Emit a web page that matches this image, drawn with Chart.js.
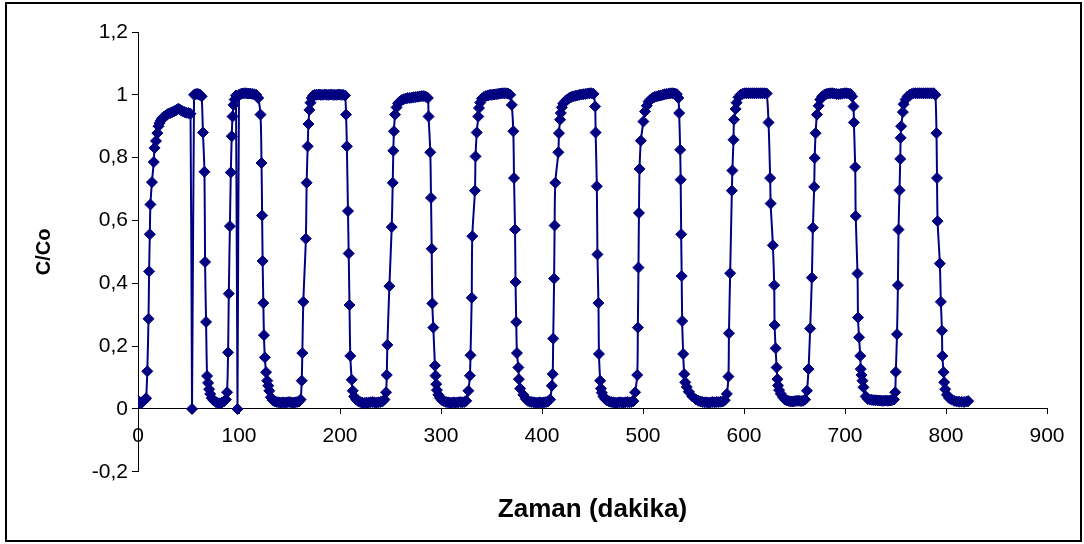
<!DOCTYPE html>
<html>
<head>
<meta charset="utf-8">
<script src="https://cdn.jsdelivr.net/npm/chart.js@4/dist/chart.umd.min.js"></script>
<style>
  html, body { margin: 0; padding: 0; background: #ffffff; }
  #wrap { width: 1084px; height: 544px; }
</style>
</head>
<body>
<div id="wrap"><canvas id="grafik" width="1084" height="544"></canvas></div>
<script>
// Ölçüm verileri: [zaman (dakika), C/Co] — her döngü ayrı dizide
const dongu1 = [
  [0,0.027],[1,0.022],[2,0.02],[3,0.018],[4,0.021],[5,0.024],[6,0.027],[7,0.03],[8,0.034],
  [9.2,0.12],[10.4,0.287],[11,0.438],[11.7,0.556],[12.3,0.651],[13.8,0.722],[15.6,0.786],[16.4,0.831],
  [17.8,0.853],[19.2,0.878],[20.3,0.9],[21.4,0.91],[22.6,0.918],[24,0.925],[25.5,0.93],[27,0.933],
  [28.5,0.936],[30,0.94],[32,0.942],[34,0.945],[36,0.948],[38,0.952],[40,0.956],[42,0.952],[44,0.948],
  [46,0.945],[48,0.943],[50,0.942],[52,0.94],[53.5,0],
  [55.5,1.0],[57,1.002],[58.5,1.003],[60,1.002],[61.5,1.0],[63,0.995],
  [64.3,0.88],[65.8,0.755],[66.4,0.468],[67.4,0.277],[68.4,0.105],[69.4,0.083],[70.4,0.063],[71.5,0.048],
  [73,0.035],[75,0.027],[77,0.022],[79,0.019],[81,0.018],[83,0.02],[85,0.024],[87,0.03]
];
const dongu2 = [
  [88.2,0.053],[89.2,0.18],[89.9,0.367],[91,0.582],[91.9,0.753],[92.8,0.868],[93.6,0.931],[94.6,0.968],
  [95.7,0.985],[97,0.998],[98.5,0],
  [100,1.0],[101.5,1.002],[103,1.004],[105,1.005],[107,1.005],[109,1.004],[111,1.004],[113,1.003],
  [115,1.002],[117,1.0],[119,0.99],
  [121.3,0.937],[122.3,0.783],[122.9,0.616],[123.4,0.471],[124.1,0.337],[124.7,0.235],[125.6,0.164],
  [126.8,0.117],[128,0.09],[129,0.074],[130,0.058],[131.5,0.037],[133.5,0.028],[135.5,0.024],[137.5,0.022],
  [139.5,0.021],[141.5,0.02],[143.5,0.021],[145.5,0.02],[147.5,0.021],[149.5,0.022],[151.5,0.021],
  [153.5,0.02],[155.5,0.021],[157.5,0.022],[159.5,0.024],[161,0.03]
];
const dongu3 = [
  [162.1,0.09],[162.7,0.178],[163.7,0.341],[166.2,0.542],[167,0.72],[168,0.836],[168.8,0.907],[169.7,0.952],
  [170.8,0.975],[172,0.99],[173.5,0.998],[175,1.0],[177,1.0],[179,1.001],[181,1.0],[183,1.0],[185,1.001],
  [187,1.0],[189,1.0],[191,1.001],[193,1.0],[195,1.0],[197,1.0],[199,1.001],[201,1.0],[203,1.0],[205,0.998],
  [206,0.937],[206.8,0.836],[207.9,0.63],[208.6,0.495],[209.4,0.331],[210.2,0.169],[211.6,0.093],[212.6,0.058],
  [214,0.04],[216,0.03],[218,0.025],[220,0.022],[222,0.02],[224,0.019],[226,0.02],[228,0.02],[230,0.021],
  [232,0.022],[234,0.021],[236,0.02],[238,0.021],[240,0.022],[242,0.024],[244,0.03]
];
const dongu4 = [
  [245.6,0.053],[246.3,0.108],[246.9,0.204],[248.9,0.391],[251.2,0.579],[252.2,0.72],[252.8,0.822],[253.4,0.884],
  [254.5,0.937],[256,0.96],[257.5,0.972],[259,0.978],[261,0.983],[263,0.986],[265,0.988],[267,0.99],[269,0.99],
  [271,0.991],[273,0.992],[275,0.993],[277,0.994],[279,0.995],[281,0.996],[283,0.996],[285,0.994],[287,0.99],
  [287.7,0.931],[289.4,0.817],[290.1,0.672],[290.8,0.51],[291.4,0.336],[292.4,0.259],[294,0.138],[294.6,0.106],
  [295.3,0.079],[296,0.06],[297.4,0.045],[299,0.035],[301,0.028],[303,0.025],[305,0.022],[307,0.021],[309,0.02],
  [311,0.02],[313,0.021],[315,0.02],[317,0.021],[319,0.022],[321,0.021],[323,0.022],[325,0.026]
];
const dongu5 = [
  [327.1,0.058],[328.6,0.106],[329.2,0.171],[330.4,0.354],[331,0.55],[333.6,0.695],[334.2,0.804],[335.4,0.88],
  [336.9,0.931],[337.6,0.958],[338.8,0.975],[340.5,0.988],[342.5,0.993],[344.5,0.996],[346.5,0.998],[348.5,1.0],
  [350.5,1.0],[352.5,1.001],[354.5,1.002],[356.5,1.003],[358.5,1.004],[360.5,1.005],[362.5,1.005],[364.5,1.005],
  [366.5,1.004],[368.5,1.0],
  [370.1,0.968],[371.6,0.884],[372.3,0.735],[373.3,0.571],[373.8,0.404],[374.5,0.277],[375.2,0.178],[376.6,0.132],
  [377.1,0.095],[378.4,0.065],[381.5,0.045],[384,0.032],[386,0.026],[388,0.023],[390,0.022],[392,0.021],[394,0.02],
  [396,0.02],[398,0.021],[400,0.02],[402,0.021],[404,0.022],[406,0.024],[408,0.03]
];
const dongu6 = [
  [409.7,0.074],[410.6,0.111],[411.1,0.224],[412,0.415],[412.5,0.584],[413.2,0.72],[416.2,0.817],[416.8,0.878],
  [417.9,0.921],[418.6,0.942],[419.6,0.96],[421,0.972],[423,0.98],[425,0.985],[427,0.99],[429,0.993],[431,0.995],
  [433,0.997],[435,0.998],[437,1.0],[439,1.001],[441,1.002],[443,1.003],[445,1.004],[447,1.005],[449,1.005],[451,1.003],
  [452.6,0.963],[453.1,0.88],[454.3,0.709],[454.9,0.492],[455.9,0.337],[456.4,0.175],[457.6,0.09],[458.3,0.065],
  [459.2,0.052],[460.8,0.04],[462.5,0.032],[464.5,0.027],[466.5,0.024],[468.5,0.022],[470.5,0.021],[472.5,0.02],
  [474.5,0.02],[476.5,0.021],[478.5,0.021],[480.5,0.02],[482.5,0.021],[484.5,0.022],[486.5,0.021],[488.5,0.022],[490.5,0.025]
];
const dongu7 = [
  [492.2,0.053],[494.3,0.108],[494.9,0.259],[495.5,0.45],[496,0.624],[496.6,0.764],[497.9,0.854],[500.4,0.915],
  [502,0.947],[503.8,0.965],[505.5,0.978],[507.5,0.985],[509.5,0.99],[511.5,0.993],[513.5,0.995],[515.5,0.997],
  [517.5,0.998],[519.5,1.0],[521.5,1.002],[523.5,1.003],[525.5,1.004],[527.5,1.005],[529.5,1.005],[531.5,1.004],
  [533.5,1.002],[535,0.99],
  [535.8,0.942],[536.8,0.825],[537.3,0.73],[537.8,0.556],[538.3,0.423],[538.8,0.28],[539.8,0.175],[540.8,0.111],
  [541.8,0.085],[543.3,0.07],[545.3,0.055],[548.8,0.04],[552.5,0.03],[555,0.026],[557,0.024],[559,0.022],[561,0.021],
  [563,0.021],[565,0.02],[567,0.021],[569,0.022],[571,0.021],[573,0.022],[575,0.022],[577,0.023],[579,0.024],[581,0.028]
];
const dongu8 = [
  [583,0.048],[584.6,0.103],[585.1,0.241],[586.3,0.432],[588,0.695],[588.5,0.759],[589.6,0.857],[590.1,0.921],
  [591.7,0.955],[592.7,0.975],[594.5,0.992],[596.5,1.0],[598.5,1.003],[600.5,1.005],[602.5,1.005],[604.5,1.005],
  [606.5,1.005],[608.5,1.005],[610.5,1.005],[612.5,1.005],[614.5,1.005],[616.5,1.005],[618.5,1.005],[620.5,1.005],
  [622.5,1.004],
  [624.3,0.912],[625.9,0.735],[626.4,0.654],[628.6,0.521],[629.9,0.394],[630.3,0.267],[631.3,0.193],[632.3,0.132],
  [633.1,0.095],[633.7,0.075],[634.7,0.06],[636.5,0.048],[638.5,0.038],[640.5,0.03],[642.5,0.027],[644.5,0.025],
  [646.5,0.024],[648.5,0.024],[650.5,0.025],[652.5,0.026],[654.5,0.026],[656.5,0.025],[658.5,0.026],[660.5,0.03]
];
const dongu9 = [
  [662.3,0.058],[663.9,0.127],[665.5,0.256],[667.2,0.418],[668.2,0.577],[669.5,0.707],[670,0.799],[670.9,0.878],
  [672.2,0.937],[673.9,0.965],[675.5,0.985],[677.5,0.995],[679.5,1.0],[681.5,1.003],[683.5,1.004],[685.5,1.005],
  [687.5,1.005],[689.5,1.004],[691.5,1.003],[693.5,1.002],[695.5,1.003],[697.5,1.004],[699.5,1.005],[701.5,1.005],
  [703.5,1.004],[705.5,1.003],[707,0.995],
  [708.4,0.963],[708.8,0.912],[710.1,0.77],[710.6,0.614],[712.4,0.431],[712.9,0.291],[713.9,0.228],[715.1,0.169],
  [715.6,0.127],[716.3,0.108],[717.3,0.09],[718.3,0.069],[720.5,0.04],[722.5,0.032],[724.5,0.03],[726.5,0.029],
  [728.5,0.028],[730.5,0.028],[732.5,0.027],[734.5,0.027],[736.5,0.026],[738.5,0.026],[740.5,0.027],[742.5,0.026],
  [744.5,0.027],[746.5,0.028],[748.5,0.03]
];
const dongu10 = [
  [749.7,0.053],[750.3,0.118],[751.5,0.238],[752.4,0.394],[753,0.571],[754,0.696],[754.7,0.796],[755.1,0.863],
  [755.6,0.9],[757.3,0.945],[758,0.97],[760,0.985],[762,0.995],[764,1.0],[766,1.003],[768,1.005],[770,1.005],
  [772,1.005],[774,1.005],[776,1.005],[778,1.005],[780,1.005],[782,1.005],[784,1.005],[786,1.005],[788,1.005],[789.5,1.0],
  [790.6,0.878],[791.1,0.735],[791.7,0.598],[793.9,0.463],[794.9,0.341],[796,0.249],[796.4,0.169],[797.6,0.117],
  [798.2,0.085],[799.2,0.063],[800.9,0.045],[803,0.035],[805.5,0.03],[808,0.026],[810.5,0.024],[813,0.023],
  [815.5,0.023],[818,0.022],[820.5,0.024],[822,0.025]
];

// Eksen aralıkları
const xEkseni = { min: 0, max: 900, adim: 100 };
const yEkseni = { min: -0.2, max: 1.2, adim: 0.2 };
const eksenBasliklari = { x: 'Zaman (dakika)', y: 'C/Co' };

const tumNoktalar = [dongu1, dongu2, dongu3, dongu4, dongu5, dongu6, dongu7, dongu8, dongu9, dongu10]
  .flat()
  .map(([t, c]) => ({ x: t, y: c }));

const YAZI = '"Liberation Sans", Arial, sans-serif';
const LACIVERT = '#000080';

// Grafik çerçevesi ve beyaz zemin
const cerceve = {
  id: 'cerceve',
  beforeDraw(chart) {
    const ctx = chart.ctx;
    ctx.save();
    ctx.fillStyle = '#ffffff';
    ctx.fillRect(0, 0, chart.width, chart.height);
    ctx.restore();
  },
  afterDraw(chart) {
    const ctx = chart.ctx;
    ctx.save();
    ctx.strokeStyle = '#000000';
    ctx.lineWidth = 2;
    ctx.strokeRect(6, 3, 1075, 538);
    ctx.restore();
  }
};

const virgulluSayi = (v) => {
  const r = Math.round(v * 10) / 10;
  return String(r).replace('.', ',');
};

new Chart(document.getElementById('grafik'), {
  type: 'scatter',
  data: {
    datasets: [{
      data: tumNoktalar,
      showLine: true,
      borderColor: LACIVERT,
      borderWidth: 2,
      tension: 0.3,
      pointStyle: 'rectRot',
      pointRadius: 5.5,
      pointBorderWidth: 1,
      pointBackgroundColor: LACIVERT,
      pointBorderColor: LACIVERT
    }]
  },
  options: {
    responsive: false,
    animation: false,
    events: [],
    layout: { padding: { left: 10, right: 37, top: 32, bottom: 9 } },
    plugins: {
      legend: { display: false },
      tooltip: { enabled: false },
      title: {
        display: true,
        text: eksenBasliklari.x,
        position: 'bottom',
        fullSize: false,
        color: '#000000',
        font: { family: YAZI, size: 26, weight: 'bold' },
        padding: { top: 22, bottom: 10 }
      }
    },
    scales: {
      x: {
        type: 'linear',
        position: { y: 0 },
        min: xEkseni.min,
        max: xEkseni.max,
        ticks: {
          stepSize: xEkseni.adim,
          padding: 10,
          color: '#000000',
          maxRotation: 0,
          autoSkip: false,
          font: { family: YAZI, size: 21 }
        },
        grid: { drawOnChartArea: false, drawTicks: true, tickLength: 5, color: '#000000', lineWidth: 1 },
        border: { display: true, color: '#000000', width: 1 }
      },
      y: {
        type: 'linear',
        position: 'left',
        min: yEkseni.min,
        max: yEkseni.max,
        ticks: {
          stepSize: yEkseni.adim,
          padding: 4,
          color: '#000000',
          font: { family: YAZI, size: 21 },
          callback: virgulluSayi
        },
        grid: { drawOnChartArea: false, drawTicks: true, tickLength: 6, color: '#000000', lineWidth: 1 },
        border: { display: true, color: '#000000', width: 1 },
        title: {
          display: true,
          text: eksenBasliklari.y,
          color: '#000000',
          font: { family: YAZI, size: 20, weight: 'bold' },
          padding: { top: 22, bottom: 0 }
        },
        afterFit(scale) { scale.width = 128; }
      }
    }
  },
  plugins: [cerceve]
});
</script>
</body>
</html>
